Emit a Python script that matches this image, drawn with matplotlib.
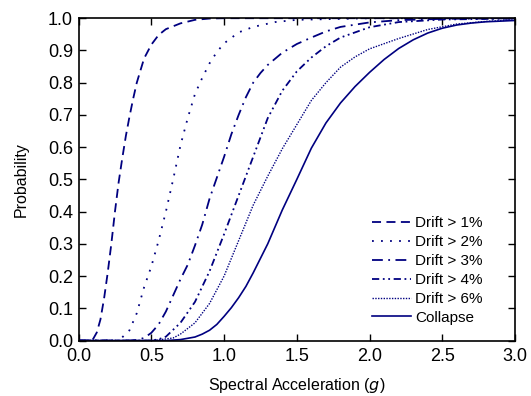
import matplotlib
matplotlib.use("Agg")
import matplotlib.pyplot as plt

plt.rcParams['font.family'] = ['Liberation Sans', 'DejaVu Sans']

# Curvas de fragilidad (Sa en g, probabilidad)
sa_1 = [0.0, 0.09, 0.10, 0.125, 0.15, 0.175, 0.20, 0.225, 0.25, 0.275, 0.30, 0.325,
        0.35, 0.375, 0.40, 0.45, 0.50, 0.55, 0.60, 0.70, 0.80, 0.90, 1.0, 3.0]
p_1 = [0.0, 0.0, 0.005, 0.025, 0.065, 0.13, 0.21, 0.30, 0.40, 0.49, 0.565, 0.635,
       0.695, 0.75, 0.80, 0.875, 0.918, 0.948, 0.966, 0.984, 0.995, 0.999, 1.0, 1.0]

sa_2 = [0.0, 0.28, 0.30, 0.35, 0.40, 0.45, 0.50, 0.55, 0.60, 0.65, 0.70, 0.75, 0.80,
        0.85, 0.90, 0.95, 1.00, 1.10, 1.20, 1.35, 1.50, 2.0, 3.0]
p_2 = [0.0, 0.0, 0.01, 0.032, 0.085, 0.165, 0.23, 0.31, 0.40, 0.50, 0.605, 0.69, 0.765,
       0.815, 0.86, 0.895, 0.922, 0.956, 0.973, 0.988, 0.995, 1.0, 1.0]

sa_3 = [0.0, 0.35, 0.40, 0.45, 0.50, 0.55, 0.60, 0.65, 0.70, 0.75, 0.80, 0.85, 0.90,
        0.95, 1.00, 1.05, 1.10, 1.15, 1.20, 1.25, 1.30, 1.40, 1.50, 1.60, 1.70, 1.80,
        2.00, 2.20, 2.50, 3.0]
p_3 = [0.0, 0.0, 0.002, 0.008, 0.024, 0.05, 0.09, 0.14, 0.19, 0.235, 0.295, 0.36, 0.44,
       0.505, 0.57, 0.64, 0.70, 0.755, 0.80, 0.83, 0.855, 0.893, 0.92, 0.94, 0.959, 0.973,
       0.987, 0.994, 0.998, 1.0]

sa_4 = [0.0, 0.50, 0.55, 0.60, 0.70, 0.80, 0.90, 1.00, 1.10, 1.20, 1.30, 1.40, 1.50,
        1.60, 1.70, 1.80, 2.00, 2.20, 2.50, 3.0]
p_4 = [0.0, 0.0, 0.004, 0.012, 0.055, 0.12, 0.215, 0.33, 0.45, 0.57, 0.69, 0.775,
       0.835, 0.878, 0.913, 0.94, 0.972, 0.988, 0.996, 0.999]

sa_6 = [0.0, 0.50, 0.55, 0.65, 0.70, 0.80, 0.90, 1.00, 1.10, 1.20, 1.30, 1.40, 1.50,
        1.60, 1.70, 1.80, 1.90, 2.00, 2.20, 2.40, 2.60, 2.80, 3.00]
p_6 = [0.0, 0.0, 0.002, 0.008, 0.02, 0.055, 0.115, 0.20, 0.31, 0.42, 0.51, 0.595,
       0.67, 0.745, 0.80, 0.848, 0.88, 0.905, 0.937, 0.965, 0.982, 0.99, 0.995]

sa_col = [0.0, 0.60, 0.70, 0.80, 0.85, 0.90, 0.95, 1.00, 1.05, 1.10, 1.15, 1.20, 1.25,
          1.30, 1.40, 1.50, 1.60, 1.70, 1.80, 1.90, 2.00, 2.10, 2.20, 2.30, 2.40, 2.50,
          2.60, 2.70, 2.80, 3.00]
p_col = [0.0, 0.0, 0.003, 0.011, 0.02, 0.032, 0.05, 0.075, 0.102, 0.133, 0.168, 0.21,
         0.255, 0.30, 0.405, 0.50, 0.597, 0.675, 0.737, 0.788, 0.832, 0.872, 0.906,
         0.933, 0.954, 0.969, 0.979, 0.985, 0.989, 0.993]

etiquetas = ['Drift > 1%', 'Drift > 2%', 'Drift > 3%', 'Drift > 4%', 'Drift > 6%', 'Collapse']

color = '#000080'

fig = plt.figure(figsize=(5.31, 3.96), dpi=100)
ax = fig.add_axes([0.148, 0.140, 0.822, 0.814])

ax.plot(sa_1, p_1, color=color, lw=1.3, linestyle=(0, (5, 3)), label=etiquetas[0])
ax.plot(sa_2, p_2, color=color, lw=1.3, linestyle=(0, (1, 4)), label=etiquetas[1])
ax.plot(sa_3, p_3, color=color, lw=1.3, linestyle=(0, (6, 3, 1, 3)), label=etiquetas[2])
ax.plot(sa_4, p_4, color=color, lw=1.3, linestyle=(0, (4, 2, 1, 2, 1, 2)), label=etiquetas[3])
ax.plot(sa_6, p_6, color=color, lw=1.0, linestyle=(0, (1, 1)), label=etiquetas[4])
ax.plot(sa_col, p_col, color=color, lw=1.2, linestyle='-', label=etiquetas[5])

ax.set_xlim(0, 3.0)
ax.set_ylim(0, 1.0)
ax.set_xticks([0.0, 0.5, 1.0, 1.5, 2.0, 2.5, 3.0])
ax.set_yticks([i / 10 for i in range(11)])
ax.xaxis.set_major_formatter(matplotlib.ticker.FormatStrFormatter('%.1f'))
ax.yaxis.set_major_formatter(matplotlib.ticker.FormatStrFormatter('%.1f'))
ax.tick_params(direction='in', length=5, width=1, top=True, right=True, labelsize=13)
ax.tick_params(axis='x', pad=5.5)
ax.tick_params(axis='y', pad=4)
for s in ax.spines.values():
    s.set_linewidth(1.2)

ax.set_xlabel('Spectral Acceleration ($\\it{g}$)', fontsize=11.5, labelpad=8)
ax.set_ylabel('Probability', fontsize=11.5, labelpad=14)

ax.legend(loc='lower right', bbox_to_anchor=(0.94, 0.03), frameon=False, fontsize=11,
          handlelength=2.5, handletextpad=0.3, labelspacing=0.32, borderaxespad=0)

fig.savefig('out.png', dpi=100)
